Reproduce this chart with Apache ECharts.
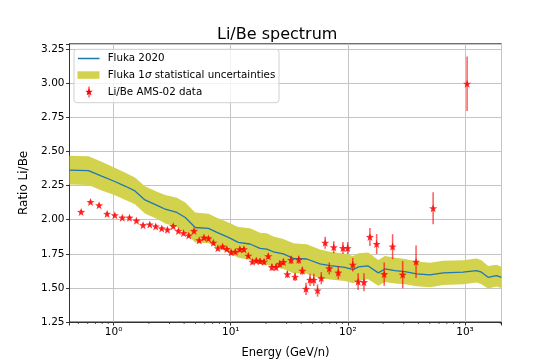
<!DOCTYPE html>
<html>
<head>
<meta charset="utf-8">
<script src="https://cdn.jsdelivr.net/npm/echarts@6/dist/echarts.min.js"></script>
<style>
html, body { margin: 0; padding: 0; background: #fff; }
#chart { width: 557px; height: 364px; }
</style>
</head>
<body>
<div id="chart"></div>
<script>
// Fluka 2020 prediction (energy in GeV/n, ratio, 1 sigma half width)
var flukaE = [0.42, 0.61, 0.79, 1.0, 1.25, 1.52, 1.85, 2.40, 2.76, 3.47, 4.09, 4.97, 6.46, 7.62, 9.56, 11.6, 14.6, 17.8, 20.3, 23.1, 28.1, 34.3, 44.6, 57.8, 70.3, 94.4, 111, 123, 149, 182, 207, 252, 307, 386, 501, 651, 963, 1254, 1383, 1575, 1856, 2046];
var flukaR = [2.364, 2.360, 2.320, 2.284, 2.247, 2.211, 2.145, 2.101, 2.077, 2.053, 2.016, 1.943, 1.936, 1.907, 1.870, 1.834, 1.822, 1.790, 1.785, 1.765, 1.749, 1.717, 1.712, 1.676, 1.663, 1.651, 1.634, 1.654, 1.661, 1.610, 1.639, 1.627, 1.619, 1.603, 1.595, 1.610, 1.615, 1.627, 1.615, 1.578, 1.590, 1.578];
var flukaSig = [0.105, 0.105, 0.105, 0.100, 0.100, 0.098, 0.100, 0.100, 0.105, 0.108, 0.110, 0.110, 0.108, 0.108, 0.110, 0.112, 0.115, 0.115, 0.115, 0.112, 0.110, 0.110, 0.108, 0.105, 0.102, 0.100, 0.100, 0.100, 0.098, 0.095, 0.095, 0.095, 0.093, 0.090, 0.090, 0.089, 0.088, 0.088, 0.088, 0.082, 0.080, 0.078];

// AMS-02 Li/Be data
var amsE = [0.528, 0.635, 0.751, 0.880, 1.024, 1.186, 1.366, 1.567, 1.784, 2.035, 2.290, 2.576, 2.881, 3.228, 3.575, 3.953, 4.377, 4.857, 5.378, 5.909, 6.455, 7.108, 7.763, 8.53, 9.26, 10.08, 10.94, 11.96, 12.96, 14.13, 15.31, 16.53, 17.81, 19.27, 20.92, 22.45, 24.38, 26.22, 28.14, 30.43, 32.73, 35.40, 38.07, 40.87, 43.94, 47.53, 51.2, 55.1, 59.3, 64.0, 69.4, 75.8, 82.8, 90.8, 99.6, 110.1, 122.4, 137.2, 154.3, 176.0, 204.3, 240.9, 293.8, 382.2, 534.6, 1042];
var amsR = [2.057, 2.130, 2.106, 2.043, 2.033, 2.015, 2.015, 1.993, 1.960, 1.965, 1.951, 1.936, 1.927, 1.953, 1.918, 1.902, 1.884, 1.918, 1.849, 1.869, 1.863, 1.831, 1.791, 1.803, 1.785, 1.761, 1.765, 1.783, 1.783, 1.736, 1.692, 1.700, 1.696, 1.692, 1.732, 1.652, 1.652, 1.676, 1.690, 1.600, 1.705, 1.581, 1.707, 1.626, 1.493, 1.559, 1.559, 1.481, 1.571, 1.831, 1.643, 1.798, 1.612, 1.792, 1.792, 1.670, 1.546, 1.542, 1.874, 1.822, 1.601, 1.803, 1.597, 1.692, 2.084, 2.997];
var amsErr = [0.012, 0.012, 0.012, 0.012, 0.012, 0.012, 0.012, 0.012, 0.012, 0.012, 0.014, 0.014, 0.014, 0.014, 0.014, 0.014, 0.014, 0.014, 0.014, 0.014, 0.015, 0.015, 0.015, 0.015, 0.015, 0.018, 0.018, 0.018, 0.018, 0.018, 0.02, 0.02, 0.02, 0.02, 0.02, 0.025, 0.025, 0.025, 0.025, 0.025, 0.03, 0.03, 0.03, 0.03, 0.045, 0.045, 0.045, 0.045, 0.045, 0.044, 0.044, 0.044, 0.049, 0.044, 0.044, 0.049, 0.061, 0.066, 0.066, 0.073, 0.085, 0.091, 0.10, 0.119, 0.118, 0.2];

// minor ticks of the log axis
var xMinor = [0.5, 0.6, 0.7, 0.8, 0.9, 2, 3, 4, 5, 6, 7, 8, 9, 20, 30, 40, 50, 60, 70, 80, 90, 200, 300, 400, 500, 600, 700, 800, 900, 2000];
var supDigits = ['⁰', '¹', '²', '³', '⁴'];

var FONT = 'DejaVu Sans';
var Y_MIN = 1.25, Y_MAX = 3.29;
var bandColor = '#d2d24d';
var starPts = [[0, -10], [2.6, -3.4], [9.51, -3.09], [4.1, 1.3], [5.88, 8.09], [0, 4.3], [-5.88, 8.09], [-4.1, 1.3], [-9.51, -3.09], [-2.6, -3.4]];
var starPath = 'path://M' + starPts.map(function (p) { return p[0] + ',' + p[1]; }).join(' L') + ' Z';

var chart = echarts.init(document.getElementById('chart'));

var option = {
    animation: false,
    title: {
        text: 'Li/Be spectrum',
        left: 212, top: 22,
        textStyle: {fontFamily: FONT, fontSize: 16, fontWeight: 'normal', color: '#000'}
    },
    grid: {
        left: 69.5, right: 55.5, top: 43.8, bottom: 40.7,
        show: true, borderColor: '#333', borderWidth: 1
    },
    xAxis: {
        type: 'log', logBase: 10, min: 0.42, max: 2050,
        name: 'Energy (GeV/n)', nameLocation: 'middle', nameGap: 25,
        nameTextStyle: {fontFamily: FONT, fontSize: 11.5, color: '#000'},
        axisLine: {show: true, onZero: false, lineStyle: {color: '#333'}},
        axisTick: {show: true, length: 3.5, lineStyle: {color: '#333'}},
        axisLabel: {
            fontFamily: FONT, fontSize: 10.5, color: '#000', margin: 5,
            formatter: function (v) {
                var e = Math.log10(v);
                if (Math.abs(e - Math.round(e)) > 1e-6) return '';
                return '10' + supDigits[Math.round(e)];
            }
        },
        splitLine: {show: true, lineStyle: {color: '#c4c4c4', width: 1}}
    },
    yAxis: {
        type: 'value', min: Y_MIN, max: Y_MAX, interval: 0.25,
        name: 'Ratio Li/Be', nameLocation: 'middle', nameGap: 36, nameRotate: 90,
        nameTextStyle: {fontFamily: FONT, fontSize: 12, color: '#000'},
        axisLine: {show: true, lineStyle: {color: '#333'}},
        axisTick: {show: true, length: 3.5, lineStyle: {color: '#333'}},
        axisLabel: {
            fontFamily: FONT, fontSize: 10.5, color: '#000', margin: 5,
            formatter: function (v) {
                var k = (v - Y_MIN) / 0.25;
                if (Math.abs(k - Math.round(k)) > 1e-6) return '';
                return v.toFixed(2);
            }
        },
        splitLine: {show: true, lineStyle: {color: '#c4c4c4', width: 1}}
    },
    series: [
        {
            // 1 sigma band
            type: 'custom', name: 'Fluka 1σ statistical uncertainties',
            data: flukaE.map(function (e, i) { return [e, flukaR[i] - flukaSig[i], flukaR[i] + flukaSig[i]]; }),
            encode: {x: 0, y: [1, 2]},
            clip: true, silent: true, z: 2,
            renderItem: function (params, api) {
                if (params.dataIndex !== 0) return null;
                var pts = [];
                for (var i = 0; i < flukaE.length; i++) pts.push(api.coord([flukaE[i], flukaR[i] + flukaSig[i]]));
                for (var j = flukaE.length - 1; j >= 0; j--) pts.push(api.coord([flukaE[j], flukaR[j] - flukaSig[j]]));
                return {type: 'polygon', shape: {points: pts}, style: {fill: bandColor}};
            }
        },
        {
            type: 'line', name: 'Fluka 2020',
            data: flukaE.map(function (e, i) { return [e, flukaR[i]]; }),
            showSymbol: false, symbol: 'none', z: 3,
            lineStyle: {color: '#1f77b4', width: 1.3}
        },
        {
            // error bars
            type: 'custom', name: 'Li/Be AMS-02 data err',
            data: amsE.map(function (e, i) { return [e, amsR[i], amsErr[i]]; }),
            encode: {x: 0, y: 1},
            silent: true, z: 4,
            renderItem: function (params, api) {
                var x = api.value(0), y = api.value(1), er = api.value(2);
                var a = api.coord([x, y + er]), b = api.coord([x, y - er]);
                return {type: 'line', shape: {x1: a[0], y1: a[1], x2: b[0], y2: b[1]},
                    style: {stroke: 'rgba(255,0,0,0.65)', lineWidth: 1.5}};
            }
        },
        {
            type: 'scatter', name: 'Li/Be AMS-02 data',
            data: amsE.map(function (e, i) { return [e, amsR[i]]; }),
            symbol: starPath, symbolSize: 8, z: 5,
            itemStyle: {color: '#ff0000'}
        },
        {
            // minor ticks on the energy axis
            type: 'custom', silent: true, clip: false, z: 6,
            data: xMinor.map(function (v) { return [v, Y_MIN]; }),
            encode: {x: 0, y: 1},
            renderItem: function (params, api) {
                var p = api.coord([api.value(0), Y_MIN]);
                return {type: 'line', shape: {x1: p[0], y1: p[1], x2: p[0], y2: p[1] + 2},
                    style: {stroke: '#333', lineWidth: 0.8}};
            }
        }
    ],
    graphic: [
        {type: 'rect', z: 100, shape: {x: 74, y: 49.3, width: 205, height: 53.4, r: 3},
            style: {fill: 'rgba(255,255,255,0.8)', stroke: '#d0d0d0', lineWidth: 1}},
        {type: 'line', z: 101, shape: {x1: 78, y1: 58.5, x2: 99.5, y2: 58.5},
            style: {stroke: '#1f77b4', lineWidth: 1.5}},
        {type: 'rect', z: 101, shape: {x: 77.5, y: 71.3, width: 22, height: 7.5},
            style: {fill: bandColor}},
        {type: 'line', z: 101, shape: {x1: 89, y1: 86.5, x2: 89, y2: 97.5},
            style: {stroke: 'rgba(255,0,0,0.65)', lineWidth: 1.5}},
        {type: 'polygon', z: 102, x: 89, y: 92, scaleX: 0.4, scaleY: 0.4,
            shape: {points: starPts}, style: {fill: '#ff0000'}},
        {type: 'text', z: 102, x: 107.7, y: 58.5,
            style: {text: 'Fluka 2020', fontFamily: FONT, fontSize: 10.3, fill: '#000', verticalAlign: 'middle'}},
        {type: 'text', z: 102, x: 107.7, y: 75,
            style: {text: 'Fluka 1{i|σ} statistical uncertainties', fontFamily: FONT, fontSize: 10.3, fill: '#000', verticalAlign: 'middle',
                rich: {i: {fontStyle: 'italic', fontFamily: FONT, fontSize: 10.3, fill: '#000'}}}},
        {type: 'text', z: 102, x: 107.7, y: 92,
            style: {text: 'Li/Be AMS-02 data', fontFamily: FONT, fontSize: 10.3, fill: '#000', verticalAlign: 'middle'}}
    ]
};

chart.setOption(option);
</script>
</body>
</html>
